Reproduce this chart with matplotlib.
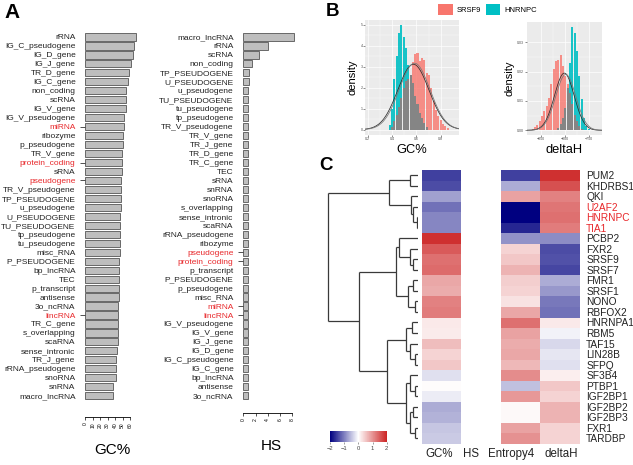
import numpy as np
import matplotlib
matplotlib.use("Agg")
import matplotlib.pyplot as plt
from matplotlib.colors import LinearSegmentedColormap
from matplotlib.patches import Patch

plt.rcParams['font.family'] = ['Liberation Sans', 'DejaVu Sans']

W, H = 633, 465

# ---- panel A: gene biotypes ----
gc_types = ['rRNA', 'IG_C_pseudogene', 'IG_D_gene', 'IG_J_gene', 'TR_D_gene', 'IG_C_gene',
            'non_coding', 'scRNA', 'IG_V_gene', 'IG_V_pseudogene', 'miRNA', 'ribozyme',
            'p_pseudogene', 'TR_V_gene', 'protein_coding', 'sRNA', 'pseudogene',
            'TR_V_pseudogene', 'TP_PSEUDOGENE', 'u_pseudogene', 'U_PSEUDOGENE',
            'TU_PSEUDOGENE', 'tp_pseudogene', 'tu_pseudogene', 'misc_RNA', 'P_PSEUDOGENE',
            'bp_lncRNA', 'TEC', 'p_transcript', 'antisense', '3o_ncRNA', 'lincRNA',
            'TR_C_gene', 's_overlapping', 'scaRNA', 'sense_intronic', 'TR_J_gene',
            'rRNA_pseudogene', 'snoRNA', 'snRNA', 'macro_lncRNA']
gc_values = [68, 66, 64, 61, 58, 57, 55, 55, 54.5, 52, 52, 51, 51, 49.6, 49.6, 49, 48, 48,
             47.5, 47.5, 47, 47, 47, 46, 46, 45.5, 45.5, 45.5, 45.5, 45.5, 43.5, 43.5, 43.5,
             43.5, 43.5, 43, 41.5, 41.5, 41, 37, 36.5]

hs_types = ['macro_lncRNA', 'rRNA', 'scRNA', 'non_coding', 'TP_PSEUDOGENE', 'U_PSEUDOGENE',
            'u_pseudogene', 'TU_PSEUDOGENE', 'tu_pseudogene', 'tp_pseudogene',
            'TR_V_pseudogene', 'TR_V_gene', 'TR_J_gene', 'TR_D_gene', 'TR_C_gene', 'TEC',
            'sRNA', 'snRNA', 'snoRNA', 's_overlapping', 'sense_intronic', 'scaRNA',
            'rRNA_pseudogene', 'ribozyme', 'pseudogene', 'protein_coding', 'p_transcript',
            'P_PSEUDOGENE', 'p_pseudogene', 'misc_RNA', 'miRNA', 'lincRNA', 'IG_V_pseudogene',
            'IG_V_gene', 'IG_J_gene', 'IG_D_gene', 'IG_C_pseudogene', 'IG_C_gene',
            'bp_lncRNA', 'antisense', '3o_ncRNA']
hs_values = [8.3, 4.0, 2.5, 1.5, 0.98, 0.87, 0.84, 0.83, 0.83, 0.83, 0.82, 0.82, 0.82, 0.82,
             0.82, 0.82, 0.82, 0.82, 0.81, 0.81, 0.81, 0.81, 0.81, 0.81, 0.8, 0.8, 0.8, 0.8,
             0.8, 0.8, 0.8, 0.8, 0.8, 0.8, 0.8, 0.79, 0.79, 0.79, 0.79, 0.78, 0.78]

red_types = ['miRNA', 'protein_coding', 'pseudogene', 'lincRNA']

# ---- panel B: histograms (density per bin) ----
gc_bin_start, gc_bin_width = 0.381, 0.019
gc_srsf9 = [0, 0.15, 0.4, 0.7, 1.1, 1.5, 2.0, 2.3, 2.4, 2.6, 3.2, 3.6, 3.65, 3.25, 3.4, 3.3,
            2.7, 2.6, 2.0, 1.35, 0.95, 0.63, 0.48, 0.27, 0.16, 0.08]
gc_hnrnpc = [0.24, 1.0, 2.4, 3.5, 4.6, 5.0, 4.4, 3.9, 3.1, 2.6, 2.2, 1.6, 1.2, 0.8, 0.55, 0.3,
             0.15, 0, 0, 0, 0, 0, 0, 0, 0, 0]
gc_fits = [(0.575, 0.128), (0.585, 0.126)]  # normal fits (mean, sd)

dh_bin_start, dh_bin_width = -872.9, 4.86
dh_srsf9 = [0.0002, 0.0006, 0.001, 0.0017, 0.003, 0.0048, 0.0065, 0.0082, 0.011, 0.0156,
            0.0207, 0.0235, 0.024, 0.0255, 0.0218, 0.0184, 0.0156, 0.0127, 0.0088, 0.0053,
            0.003, 0.0014, 0.0006, 0, 0, 0]
dh_hnrnpc = [0, 0, 0, 0, 0, 0, 0, 0, 0, 0, 0, 0, 0.0008, 0.002, 0.0042, 0.0076, 0.0144, 0.023,
             0.0351, 0.0332, 0.027, 0.0184, 0.0105, 0.0042, 0.0014, 0.0005]
dh_fits = [(-802, 20.5), (-799, 21.0)]

# ---- panel C: z-scores per RBP ----
rbps = ['PUM2', 'KHDRBS1', 'QKI', 'U2AF2', 'HNRNPC', 'TIA1', 'PCBP2', 'FXR2', 'SRSF9', 'SRSF7',
        'FMR1', 'SRSF1', 'NONO', 'RBFOX2', 'HNRNPA1', 'RBM5', 'TAF15', 'LIN28B', 'SFPQ',
        'SF3B4', 'PTBP1', 'IGF2BP1', 'IGF2BP2', 'IGF2BP3', 'FXR1', 'TARDBP']
red_rbps = ['U2AF2', 'HNRNPC', 'TIA1']
features = ['GC%', 'HS', 'Entropy4', 'deltaH']
gc_z = [-1.5, -1.4, -0.75, -1.1, -0.95, -0.95, 1.9, 1.5, 1.3, 1.35, 0.8, 0.75, 1.15, 1.2, 0.2,
        0.18, 0.6, 0.4, 0.5, -0.25, 0.02, -0.15, -0.65, -0.6, -0.45, -0.42]
hs_z = [np.nan] * 26
entropy_z = [-1.5, -0.65, 0.85, -2.0, -2.0, -1.7, -0.85, 0.4, 0.5, 0.7, 0.45, 0.4, 0.25, 0.8,
             1.3, 0.85, 0.75, 0.8, 0.65, 1.05, -0.5, 0.95, 0.05, 0.05, 0.85, 1.0]
deltah_z = [1.9, 1.6, 1.15, 1.25, 1.3, 1.2, -0.9, -1.4, -1.35, -1.45, -0.65, -0.8, -1.05, -1.1,
            0.2, -0.1, -0.3, -0.2, -0.25, 0.15, 0.5, 0.4, 0.7, 0.7, 0.4, 0.4]

# row clustering: (left, right, height), leaves are row indices
tree = (((0, 1, 8.3), (2, (3, (4, 5, 1.5), 5), 7.5), 30),
        (((6, (7, (8, 9, 5), 8.3), 20), ((10, 11, 5), (12, 13, 3.3), 10.7), 22.3),
         (((14, 15, 6.7), (16, (17, 18, 3.3), 8.3), 12.7),
          ((19, (20, 21, 3.3), 8.3), ((22, 23, 5), (24, 25, 3.3), 8.3), 12.7), 31.7), 60),
        91.7)


def px_axes(fig, x0, y0, x1, y1):
    return fig.add_axes([x0 / W, 1 - y1 / H, (x1 - x0) / W, (y1 - y0) / H])


def type_bars(ax, names, vals, xmax, ticks, offset, xlabel, labelpad):
    y = np.arange(len(names))
    ax.barh(y, vals, height=0.8, color='#BEBEBE', edgecolor='#555555', linewidth=0.6)
    ax.set_ylim(len(names) - 0.5, -0.5)
    ax.set_xlim(0, xmax)
    ax.set_yticks(y)
    ax.set_yticklabels(names, fontsize=6.0, color='#222222')
    for tick, lab, name in zip(ax.yaxis.get_major_ticks(), ax.get_yticklabels(), names):
        tick.tick1line.set_visible(name in red_types)
        if name in red_types:
            lab.set_color('#E8282B')
    ax.tick_params(axis='y', length=3.6, width=0.6, pad=3.4, color='#333333')
    for s in ['top', 'right', 'left']:
        ax.spines[s].set_visible(False)
    ax.spines['bottom'].set_position(('outward', offset))
    ax.spines['bottom'].set_bounds(ticks[0], ticks[-1])
    ax.spines['bottom'].set_linewidth(0.6)
    ax.set_xticks(ticks)
    ax.tick_params(axis='x', length=2.4, width=0.6, pad=1.5, labelsize=3.6,
                   labelrotation=90, color='#333333')
    ax.set_xlabel(xlabel, fontsize=11, labelpad=labelpad)


def hist_panel(ax, start, width, red, cyan, fits, xlim, ylim, xticks, yticks, xlabel,
               ylabelpad):
    centers = start + width * np.arange(len(red))
    ax.set_facecolor('#EBEBEB')
    ax.set_axisbelow(True)
    bw = width * 0.88
    ax.bar(centers, red, width=bw, color='#F8766D', alpha=0.8, linewidth=0)
    ax.bar(centers, cyan, width=bw, color='#00BFC4', alpha=0.9, linewidth=0)
    ax.bar(centers, np.minimum(red, cyan), width=bw, color='#858585', linewidth=0)
    xs = np.linspace(xlim[0], xlim[1], 300)
    for (m, s), c in zip(fits, ['#2B2B2B', '#777777']):
        ax.plot(xs, np.exp(-0.5 * ((xs - m) / s) ** 2) / (s * np.sqrt(2 * np.pi)),
                color=c, lw=0.55)
    ax.set_xlim(*xlim)
    ax.set_ylim(*ylim)
    ax.set_xticks(xticks)
    ax.set_yticks(yticks)
    ax.set_xticks([(a + b) / 2 for a, b in zip(xticks[:-1], xticks[1:])], minor=True)
    ax.set_yticks([(a + b) / 2 for a, b in zip(yticks[:-1], yticks[1:])], minor=True)
    ax.grid(which='major', color='white', lw=0.5)
    ax.grid(which='minor', color='white', lw=0.25)
    for s in ax.spines.values():
        s.set_visible(False)
    ax.tick_params(which='major', length=1.2, width=0.4, color='#333333', labelsize=2.6,
                   labelcolor='#4D4D4D', pad=0.8)
    ax.tick_params(which='minor', length=0)
    ax.set_xlabel(xlabel, fontsize=9.3, labelpad=2)
    ax.set_ylabel('density', fontsize=8, labelpad=ylabelpad)


def draw_tree(ax, node):
    if isinstance(node, int):
        return node, 0.0
    left, right, h = node
    yl, hl = draw_tree(ax, left)
    yr, hr = draw_tree(ax, right)
    kw = dict(color='#3A3A3A', lw=0.9, solid_capstyle='butt')
    ax.plot([hl, h], [yl, yl], **kw)
    ax.plot([hr, h], [yr, yr], **kw)
    ax.plot([h, h], [yl, yr], **kw)
    return (yl + yr) / 2, h


fig = plt.figure(figsize=(W / 100, H / 100), dpi=100)

# panel A
ax_gc = px_axes(fig, 85.3, 32.5, 140, 400.2)
type_bars(ax_gc, gc_types, gc_values, 73.4, [0, 10, 20, 30, 40, 50, 60], 11.9, 'GC%', 11)
ax_hs = px_axes(fig, 243.3, 32.5, 300, 400.2)
type_bars(ax_hs, hs_types, hs_values, 9.26, [0, 2, 4, 6, 8], 9.2, 'HS', 13)

# panel B
ax_b1 = px_axes(fig, 365.3, 20, 458.7, 134.5)
hist_panel(ax_b1, gc_bin_start, gc_bin_width, gc_srsf9, gc_hnrnpc, gc_fits,
           (0.1811, 0.9467), (-0.229, 5.224), [0.2, 0.4, 0.6, 0.8], [0, 1, 2, 3, 4, 5],
           'GC%', 2)
ax_b2 = px_axes(fig, 527, 22, 602, 134.5)
hist_panel(ax_b2, dh_bin_start, dh_bin_width, dh_srsf9, dh_hnrnpc, dh_fits,
           (-879.8, -723.5), (-0.00143, 0.03684), [-850, -800, -750], [0, 0.01, 0.02, 0.03],
           'deltaH', 2)
fig.legend(handles=[Patch(facecolor='#F8766D'), Patch(facecolor='#00BFC4')],
           labels=['SRSF9', 'HNRNPC'], loc='upper left', ncol=2, frameon=False,
           bbox_to_anchor=(438.5 / W, 1 - 4 / H), fontsize=5.5, handlelength=1.85,
           handleheight=1.85, handletextpad=0.55, columnspacing=0.6, borderpad=0,
           borderaxespad=0)

# panel C
ax_hm = px_axes(fig, 421.7, 169.7, 579.3, 443.6)
cmap = LinearSegmentedColormap.from_list('navy_fire', ['#000080', '#FFFFFF', '#CD2626'])
cmap.set_bad('white')
mat = np.ma.masked_invalid(np.column_stack([gc_z, hs_z, entropy_z, deltah_z]))
im = ax_hm.imshow(mat, cmap=cmap, vmin=-2, vmax=2, aspect='auto', interpolation='nearest')
ax_hm.yaxis.tick_right()
ax_hm.set_yticks(np.arange(len(rbps)))
ax_hm.set_yticklabels(rbps, fontsize=7.3, color='#222222')
for lab in ax_hm.get_yticklabels():
    if lab.get_text() in red_rbps:
        lab.set_color('#E8282B')
# column labels sit slightly off-centre in the original
ax_hm.set_xticks([-0.05, 0.76, 1.76, 3.03])
ax_hm.set_xticklabels(features, fontsize=8.3, color='#222222')
ax_hm.tick_params(length=0, pad=5)
ax_hm.tick_params(axis='x', pad=3.5)
for s in ax_hm.spines.values():
    s.set_visible(False)

ax_tree = px_axes(fig, 326, 169.7, 418.3, 443.6)
draw_tree(ax_tree, tree)
ax_tree.set_xlim(94, 0)
ax_tree.set_ylim(len(rbps) - 0.5, -0.5)
ax_tree.axis('off')

cax = px_axes(fig, 330, 430.7, 386.7, 441.7)
cb = fig.colorbar(im, cax=cax, orientation='horizontal', ticks=[-2, -1, 0, 1, 2])
cb.outline.set_visible(False)
cb.ax.tick_params(length=1.5, width=0.4, color='#555555', labelsize=4.2,
                  labelcolor='#444444', pad=1.5)

for letter, x, y, fs in [('A', 4, 3, 15), ('B', 326, 3, 13.5), ('C', 319, 157, 13.5)]:
    fig.text(x / W, 1 - y / H, letter, fontsize=fs, fontweight='bold', va='top', ha='left')

fig.savefig('out.png', dpi=100)
